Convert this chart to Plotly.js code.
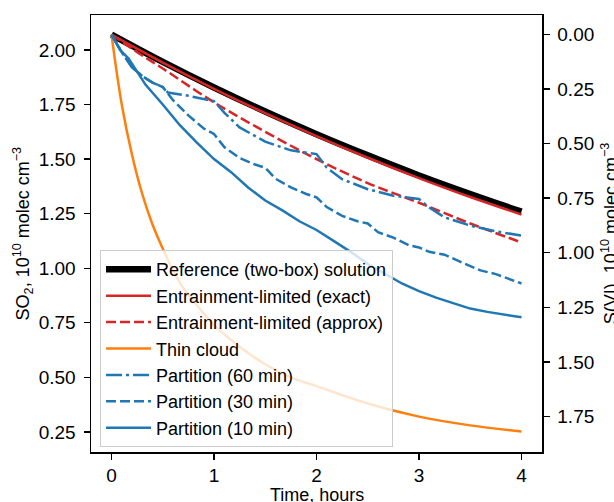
<!DOCTYPE html>
<html>
<head>
<meta charset="utf-8">
<script src="https://cdn.plot.ly/plotly-3.0.1.min.js"></script>
<style>html,body{margin:0;padding:0;background:#fff;}#chart{width:614px;height:502px;}</style>
</head>
<body>
<div id="chart"></div>
<script>
// Reference (two-box) solution
const tRef = [0, 0.5, 1.0, 1.5, 2.0, 2.5, 3.0, 3.5, 4.0];
const soRef = [2.07, 1.945, 1.828, 1.718, 1.614, 1.517, 1.425, 1.340, 1.259];
// Entrainment-limited (exact)
const tExact = [0, 0.5, 1.0, 1.5, 2.0, 2.5, 3.0, 3.5, 4.0];
const soExact = [2.07, 1.942, 1.822, 1.710, 1.605, 1.506, 1.413, 1.326, 1.246];
// Entrainment-limited (approx)
const tApprox = [0, 0.25, 0.5, 1.0, 1.5, 2.0, 2.5, 3.0, 3.5, 4.0];
const soApprox = [2.07, 1.99, 1.915, 1.76, 1.625, 1.50, 1.39, 1.30, 1.205, 1.118];
// Thin cloud
const tThin = [0, 0.1, 0.2, 0.3, 0.4, 0.5, 0.6, 0.7, 0.8, 1.0, 1.25, 1.5, 1.75, 2.0, 2.5, 3.0, 3.5, 4.0];
const soThin = [2.07, 1.75, 1.52, 1.34, 1.20, 1.09, 0.99, 0.91, 0.85, 0.74, 0.64, 0.56, 0.50, 0.46, 0.38, 0.32, 0.28, 0.252];
// Partition (60 min)
const t60 = [0, 0.1, 0.2, 0.3, 0.4, 0.5, 0.55, 0.75, 1.0, 1.1, 1.25, 1.5, 1.75, 2.0, 2.1, 2.25, 2.5, 2.75, 3.0, 3.1, 3.25, 3.5, 3.75, 4.0];
const so60 = [2.07, 1.99, 1.92, 1.88, 1.85, 1.83, 1.805, 1.79, 1.765, 1.713, 1.645, 1.58, 1.54, 1.523, 1.461, 1.408, 1.362, 1.332, 1.317, 1.278, 1.233, 1.195, 1.169, 1.149];
// Partition (30 min)
const t30 = [0, 0.1, 0.2, 0.3, 0.4, 0.5, 0.6, 0.75, 0.9, 1.0, 1.1, 1.25, 1.4, 1.5, 1.6, 1.75, 1.9, 2.0, 2.1, 2.25, 2.4, 2.5, 2.6, 2.75, 2.9, 3.0, 3.1, 3.25, 3.4, 3.5, 3.6, 3.75, 3.9, 4.0];
const so30 = [2.07, 1.99, 1.92, 1.88, 1.85, 1.83, 1.77, 1.70, 1.64, 1.615, 1.555, 1.505, 1.475, 1.46, 1.41, 1.37, 1.34, 1.325, 1.28, 1.24, 1.215, 1.205, 1.165, 1.14, 1.105, 1.095, 1.075, 1.062, 1.03, 1.01, 0.99, 0.973, 0.945, 0.93];
// Partition (10 min)
const t10 = [0, 0.083, 0.167, 0.25, 0.333, 0.5, 0.667, 0.833, 1.0, 1.167, 1.333, 1.5, 1.667, 1.833, 2.0, 2.167, 2.333, 2.5, 2.667, 2.833, 3.0, 3.167, 3.333, 3.5, 3.667, 3.833, 4.0];
const so10 = [2.07, 2.00, 1.96, 1.90, 1.84, 1.75, 1.655, 1.575, 1.50, 1.44, 1.37, 1.31, 1.265, 1.215, 1.175, 1.125, 1.075, 1.02, 0.975, 0.93, 0.895, 0.865, 0.84, 0.815, 0.80, 0.787, 0.775];

const xTicks = [0, 1, 2, 3, 4];
const yTicks = [0.25, 0.5, 0.75, 1.0, 1.25, 1.5, 1.75, 2.0];
const y2Ticks = [0, 0.25, 0.5, 0.75, 1.0, 1.25, 1.5, 1.75];

const xTitle = 'Time, hours';
const yTitle = 'SO<sub>2</sub>, 10<sup>10</sup> molec cm<sup>−3</sup>';
const y2Title = 'S(VI), 10<sup>10</sup> molec cm<sup>−3</sup>';

const BLUE = '#1f77b4', RED = '#d62728', ORANGE = '#ff7f0e';
const FONT = 'Liberation Sans, Arial, sans-serif';
const TICKFONT = {family: FONT, size: 19, color: '#000'};
const TITLEFONT = {family: FONT, size: 18, color: '#000'};

const traces = [
  {x: tRef, y: soRef, name: 'Reference (two-box) solution', mode: 'lines', line: {color: '#000', width: 6.5, shape: 'spline'}},
  {x: tExact, y: soExact, name: 'Entrainment-limited (exact)', mode: 'lines', line: {color: RED, width: 2.5, shape: 'spline'}},
  {x: tApprox, y: soApprox, name: 'Entrainment-limited (approx)', mode: 'lines', line: {color: RED, width: 2.5, dash: '10px,4px', shape: 'spline'}},
  {x: tThin, y: soThin, name: 'Thin cloud', mode: 'lines', line: {color: ORANGE, width: 2.5, shape: 'spline'}},
  {x: t60, y: so60, name: 'Partition (60 min)', mode: 'lines', line: {color: BLUE, width: 2.5, dash: '16px,4px,3px,4px'}},
  {x: t30, y: so30, name: 'Partition (30 min)', mode: 'lines', line: {color: BLUE, width: 2.5, dash: '10px,4px'}},
  {x: t10, y: so10, name: 'Partition (10 min)', mode: 'lines', line: {color: BLUE, width: 2.5}},
  // empty trace that only activates the secondary (S(VI)) axis
  {x: [], y: [], yaxis: 'y2', mode: 'lines', showlegend: false, hoverinfo: 'skip'}
];

const layout = {
  width: 614, height: 502,
  margin: {l: 91, r: 72, t: 15, b: 50},
  paper_bgcolor: '#fff', plot_bgcolor: '#fff',
  font: {family: FONT, size: 18, color: '#000'},
  showlegend: true,
  legend: {
    x: 0.02, y: 0.462, xanchor: 'left', yanchor: 'top',
    bgcolor: 'rgba(255,255,255,0.8)', bordercolor: '#cccccc', borderwidth: 1,
    font: {family: FONT, size: 18, color: '#000'}, itemwidth: 45
  },
  xaxis: {
    range: [-0.2, 4.2], tickvals: xTicks, ticktext: xTicks.map(String),
    showgrid: false, zeroline: false, showline: true, linecolor: '#000', linewidth: 1.5, mirror: true,
    ticks: 'outside', ticklen: 6, tickwidth: 1.3, tickcolor: '#000', tickfont: TICKFONT
  },
  yaxis: {
    range: [0.158, 2.160], tickvals: yTicks, tickformat: '.2f',
    showgrid: false, zeroline: false, showline: true, linecolor: '#000', linewidth: 1.5,
    ticks: 'outside', ticklen: 6, tickwidth: 1.3, tickcolor: '#000', tickfont: TICKFONT,
    ticklabelstandoff: 4
  },
  yaxis2: {
    overlaying: 'y', side: 'right', anchor: 'x',
    range: [1.913, -0.089], tickvals: y2Ticks, tickformat: '.2f',
    showgrid: false, zeroline: false, showline: true, linecolor: '#000', linewidth: 1.5,
    ticks: 'outside', ticklen: 6, tickwidth: 1.3, tickcolor: '#000', tickfont: TICKFONT,
    ticklabelstandoff: 4
  },
  annotations: [
    {text: xTitle, xref: 'paper', yref: 'paper', x: 0.5, y: -0.098, xanchor: 'center', yanchor: 'middle', showarrow: false, font: TITLEFONT},
    {text: yTitle, xref: 'paper', yref: 'paper', x: -0.151, y: 0.5, xanchor: 'center', yanchor: 'middle', textangle: -90, showarrow: false, font: TITLEFONT},
    {text: y2Title, xref: 'paper', yref: 'paper', x: 1.150, y: 0.5, xanchor: 'center', yanchor: 'middle', textangle: -90, showarrow: false, font: TITLEFONT}
  ]
};

Plotly.newPlot('chart', traces, layout, {staticPlot: true, displayModeBar: false});
</script>
</body>
</html>
